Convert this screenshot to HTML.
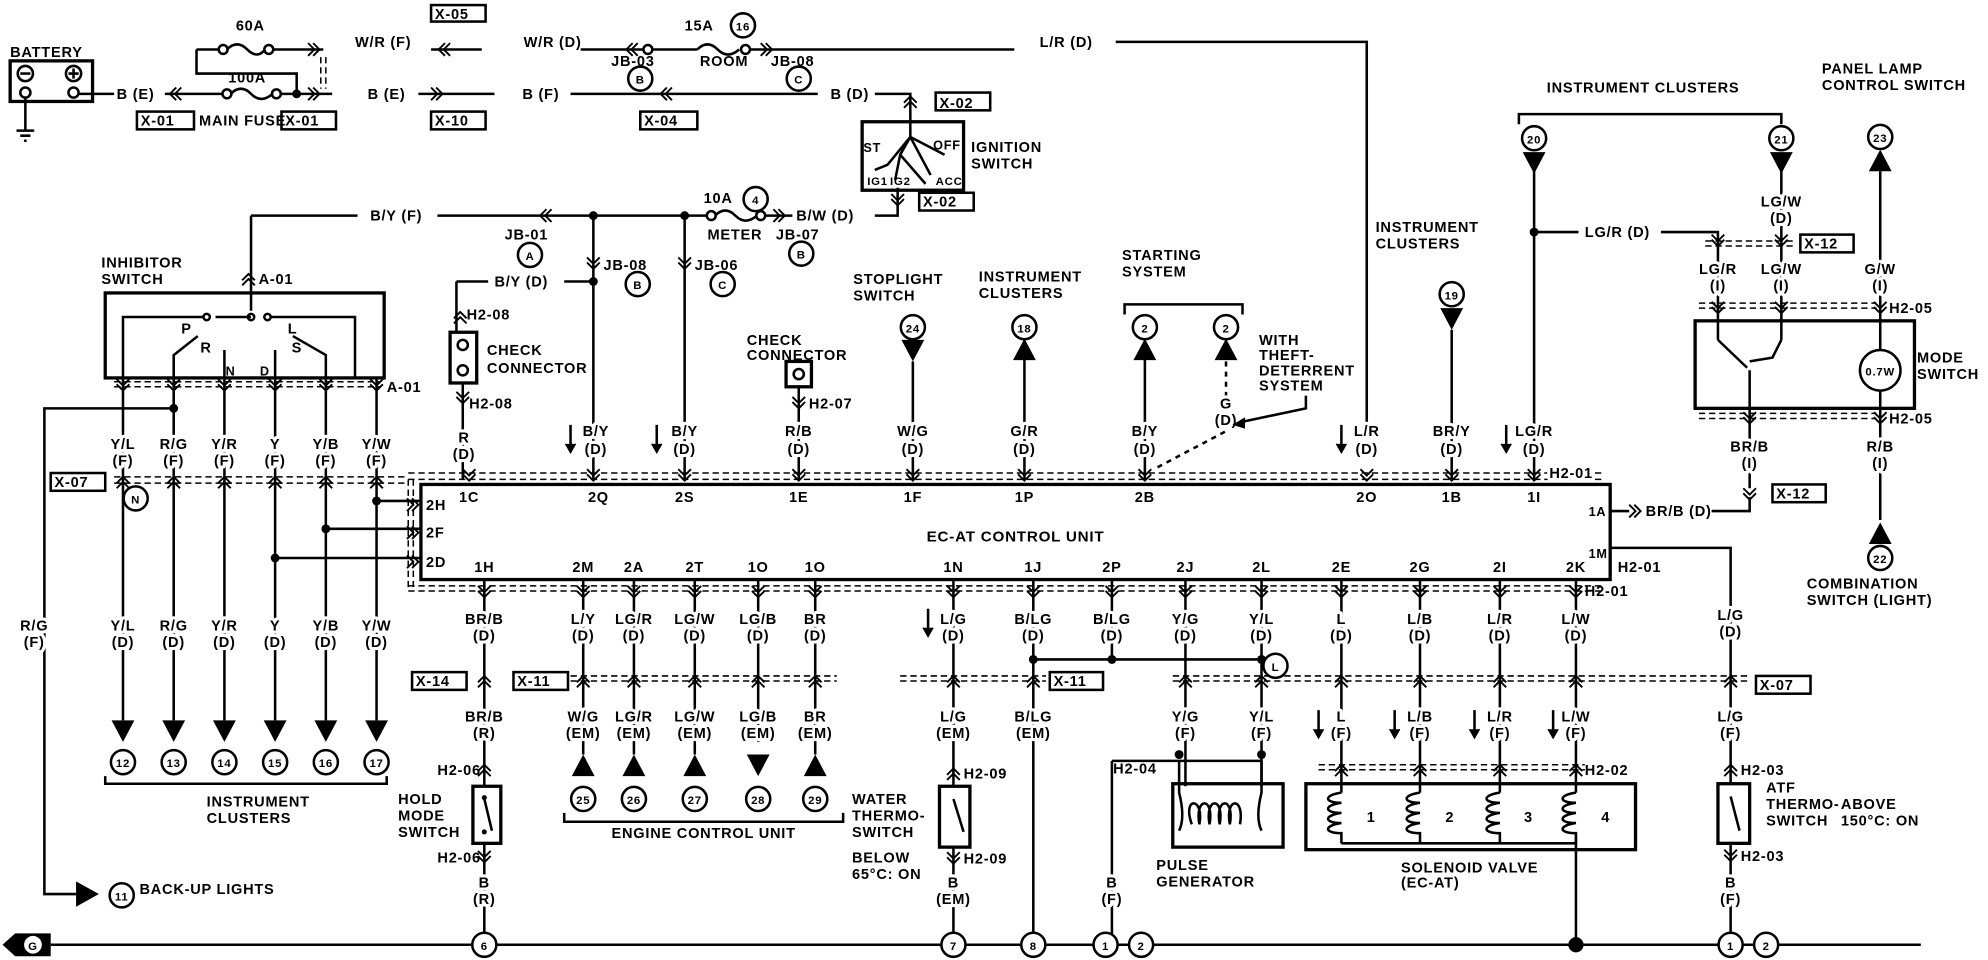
<!DOCTYPE html>
<html><head><meta charset="utf-8"><style>
html,body{margin:0;padding:0;background:#fff;}
svg{display:block;}
text{font-family:"Liberation Sans",sans-serif;font-weight:bold;font-size:11.5px;fill:#000;letter-spacing:0.6px;}
.h{paint-order:stroke;stroke:#fff;stroke-width:5px;stroke-linejoin:round;}
.m{text-anchor:middle;}
.l{stroke:#000;stroke-width:2;fill:none;}
.b{stroke:#000;stroke-width:2.6;fill:none;}
.d{stroke:#000;stroke-width:1.2;fill:none;stroke-dasharray:5 3;}
</style></head><body>
<svg width="1988" height="960" viewBox="0 0 1568 757" preserveAspectRatio="none" xmlns="http://www.w3.org/2000/svg">
<defs>
<g id="cd"><path d="M-5,-5 L0,0 L5,-5 M-5,-1 L0,4 L5,-1" stroke="#000" stroke-width="1.5" fill="none"/></g>
<g id="cu"><path d="M-5,5 L0,0 L5,5 M-5,1 L0,-4 L5,1" stroke="#000" stroke-width="1.5" fill="none"/></g>
<g id="cl"><path d="M5,-5 L0,0 L5,5 M1,-5 L-4,0 L1,5" stroke="#000" stroke-width="1.5" fill="none"/></g>
<g id="cr"><path d="M-5,-5 L0,0 L-5,5 M-1,-5 L4,0 L-1,5" stroke="#000" stroke-width="1.5" fill="none"/></g>
<g id="td"><polygon points="-9,0 9,0 0,17" fill="#000"/></g>
<g id="tu"><polygon points="-9,17 9,17 0,0" fill="#000"/></g>
<g id="cc"><circle r="9.5" fill="#fff" stroke="#000" stroke-width="2"/></g>
<g id="dot"><circle r="3.5" fill="#000"/></g>
</defs>

<!-- TOP POWER -->
<text x="8" y="45">BATTERY</text>
<rect x="8" y="48" width="65" height="32" class="b"/>
<circle cx="20" cy="58" r="6" class="l" stroke-width="1.5"/><path d="M16,58h8" class="l"/>
<circle cx="58" cy="58" r="6" class="l" stroke-width="1.5"/><path d="M54,58h8M58,54v8" class="l"/>
<circle cx="20" cy="73" r="4" class="l" stroke-width="1.5"/><circle cx="58" cy="73" r="4" class="l" stroke-width="1.5"/>
<path d="M20,77V103M13,103h14M16,107h8M19,111h2" class="l"/>
<path d="M62,74H90" class="l"/>
<text x="92" y="78">B (E)</text>
<path d="M130,74H176" class="l"/><use href="#cl" x="138" y="74"/>
<circle cx="179" cy="74" r="3.5" class="l" stroke-width="1.5"/><circle cx="218" cy="74" r="3.5" class="l" stroke-width="1.5"/>
<path d="M182,74 q8,-8 16,0 t17,0" class="l"/>
<text x="180" y="65" class="h">100A</text>
<path d="M221,74H262" class="l"/><use href="#dot" x="234" y="74"/><use href="#cr" x="248" y="74"/>
<path d="M155,39H173M155,39V58H234V74" class="l"/>
<circle cx="176" cy="39" r="3.5" class="l" stroke-width="1.5"/><circle cx="212" cy="39" r="3.5" class="l" stroke-width="1.5"/>
<path d="M179,39 q8,-8 16,0 t14,0" class="l"/>
<text x="186" y="24">60A</text>
<path d="M215,39H255" class="l"/><use href="#cr" x="248" y="39"/>
<path d="M253,45V70M257,45V70" class="d"/>
<text x="280" y="37">W/R (F)</text>
<path d="M340,39H380" class="l"/><use href="#cl" x="350" y="39"/>
<text x="413" y="37">W/R (D)</text>
<path d="M458,39H508" class="l"/><use href="#cl" x="498" y="39"/>
<circle cx="511" cy="39" r="3.5" class="l" stroke-width="1.5"/><circle cx="588" cy="39" r="3.5" class="l" stroke-width="1.5"/>
<path d="M550,39 q8,-8 16,0 t17,0M514,39H550" class="l"/>
<text x="540" y="24">15A</text><use href="#cc" x="586" y="20"/><text x="586" y="24" class="m" style="font-size:9px">16</text>
<text x="552" y="52">ROOM</text>
<path d="M591,39H800" class="l"/><use href="#cr" x="605" y="39"/>
<text x="482" y="52">JB-03</text><use href="#cc" x="505" y="62"/><text x="505" y="66" class="m" style="font-size:9px">B</text>
<text x="608" y="52">JB-08</text><use href="#cc" x="630" y="62"/><text x="630" y="66" class="m" style="font-size:9px">C</text>
<text x="820" y="37">L/R (D)</text>
<path d="M880,33H1078V340" class="l"/>
<rect x="340" y="4" width="43" height="13" class="l" stroke-width="1.5"/><text x="343" y="15">X-05</text>
<text x="290" y="78">B (E)</text>
<path d="M330,74H390" class="l"/><use href="#cr" x="345" y="74"/>
<text x="412" y="78">B (F)</text>
<path d="M450,74H645" class="l"/><use href="#cl" x="525" y="74"/>
<text x="655" y="78">B (D)</text>
<path d="M690,74H718V95" class="l"/><use href="#cu" x="718" y="80"/>
<rect x="738" y="73" width="43" height="14" class="l" stroke-width="1.5"/><text x="741" y="85">X-02</text>
<rect x="108" y="88" width="45" height="14" class="l" stroke-width="1.5"/><text x="111" y="99">X-01</text>
<text x="157" y="99">MAIN FUSE</text>
<rect x="222" y="88" width="43" height="14" class="l" stroke-width="1.5"/><text x="225" y="99">X-01</text>
<rect x="340" y="88" width="43" height="14" class="l" stroke-width="1.5"/><text x="343" y="99">X-10</text>
<rect x="505" y="88" width="45" height="14" class="l" stroke-width="1.5"/><text x="508" y="99">X-04</text>

<!-- ignition -->
<rect x="680" y="96" width="80" height="54" class="b"/>
<text x="681" y="120" style="font-size:10px">ST</text><text x="736" y="118" style="font-size:10px">OFF</text>
<text x="684" y="146" style="font-size:9px">IG1</text><text x="702" y="146" style="font-size:9px">IG2</text><text x="738" y="146" style="font-size:9px">ACC</text>
<path d="M718,95V108L745,122M718,108L700,130L690,134M718,108L710,122L706,142M718,108L734,138M710,122L730,145" class="l" stroke-width="1.3"/>
<text x="766" y="120">IGNITION</text><text x="766" y="133">SWITCH</text>
<path d="M708,148V170H690" class="l"/><use href="#cd" x="708" y="158"/>
<rect x="725" y="152" width="43" height="14" class="l" stroke-width="1.5"/><text x="728" y="163">X-02</text>
<text x="628" y="174">B/W (D)</text>
<path d="M198,170H282M345,170H558M603,170H625" class="l"/>
<text x="292" y="174">B/Y (F)</text>
<use href="#cl" x="430" y="170"/><use href="#cr" x="615" y="170"/>
<circle cx="561" cy="170" r="3.5" class="l" stroke-width="1.5"/><circle cx="600" cy="170" r="3.5" class="l" stroke-width="1.5"/>
<path d="M564,170 q8,-8 16,0 t17,0" class="l"/>
<text x="555" y="160">10A</text><use href="#cc" x="596" y="157"/><text x="596" y="161" class="m" style="font-size:9px">4</text>
<text x="558" y="189">METER</text><text x="612" y="189">JB-07</text><use href="#cc" x="632" y="200"/><text x="632" y="204" class="m" style="font-size:9px">B</text>
<text x="398" y="189">JB-01</text><use href="#cc" x="418" y="201"/><text x="418" y="205" class="m" style="font-size:9px">A</text>
<use href="#dot" x="468" y="170"/><use href="#dot" x="540" y="170"/>
<path d="M468,170V378M540,170V378" class="l"/><use href="#cd" x="468" y="208"/><use href="#cd" x="540" y="208"/>
<text x="476" y="213">JB-08</text><use href="#cc" x="503" y="224"/><text x="503" y="228" class="m" style="font-size:9px">B</text>
<text x="548" y="213">JB-06</text><use href="#cc" x="570" y="224"/><text x="570" y="228" class="m" style="font-size:9px">C</text>
<text x="390" y="226">B/Y (D)</text>
<path d="M360,222H385M445,222H468" class="l"/><use href="#dot" x="468" y="222"/>
<path d="M360,222V262M365,302V378" class="l"/><use href="#cu" x="363" y="250"/>
<text x="368" y="252">H2-08</text>
<rect x="355" y="262" width="21" height="40" class="b"/>
<circle cx="365" cy="272" r="4" class="l" stroke-width="1.5"/><circle cx="365" cy="292" r="4" class="l" stroke-width="1.5"/>
<text x="384" y="280">CHECK</text><text x="384" y="294">CONNECTOR</text>
<use href="#cd" x="365" y="314"/><text x="370" y="322">H2-08</text>

<!-- Inhibitor -->
<text x="80" y="211">INHIBITOR</text><text x="80" y="224">SWITCH</text>
<path d="M198,170V245" class="l"/><use href="#cu" x="196" y="220"/><text x="204" y="224">A-01</text>
<rect x="83" y="231" width="220" height="67" class="b"/>
<path d="M97,298V250H160M170,250H198M214,250H280V298" class="l" stroke-width="1.5"/>
<circle cx="163" cy="250" r="2.5" class="l" stroke-width="1.2"/><circle cx="198" cy="250" r="2.5" class="l" stroke-width="1.2"/><circle cx="211" cy="250" r="2.5" class="l" stroke-width="1.2"/>
<path d="M137,298V280L156,265M177,298V276M217,298V276M257,298V280L231,265" class="l" stroke-width="1.5"/>
<text x="143" y="263">P</text><text x="227" y="263">L</text><text x="158" y="278">R</text><text x="178" y="296" style="font-size:10px">N</text><text x="205" y="296" style="font-size:10px">D</text><text x="230" y="278">S</text>
<path d="M90,301H300M90,305H300" class="d"/>
<text x="305" y="309">A-01</text>
<g class="l">
<path d="M97,298V568M137,298V568M177,298V568M217,298V568M257,298V568M297,298V568"/>
<path d="M137,322H35V705H60"/>
<path d="M297,395H332M257,417H332M217,440H332"/>
</g>
<use href="#dot" x="137" y="322"/><use href="#dot" x="297" y="395"/><use href="#dot" x="257" y="417"/><use href="#dot" x="217" y="440"/>
<g>
<use href="#cd" x="97" y="304"/><use href="#cd" x="137" y="304"/><use href="#cd" x="177" y="304"/><use href="#cd" x="217" y="304"/><use href="#cd" x="257" y="304"/><use href="#cd" x="297" y="304"/>
<use href="#cu" x="97" y="380"/><use href="#cu" x="137" y="380"/><use href="#cu" x="177" y="380"/><use href="#cu" x="217" y="380"/><use href="#cu" x="257" y="380"/><use href="#cu" x="297" y="380"/>
</g>
<path d="M90,376H320M90,381H320" class="d"/>
<rect x="40" y="373" width="43" height="14" class="l" stroke-width="1.5"/><text x="43" y="384">X-07</text>
<use href="#cc" x="107" y="393"/><text x="107" y="397" class="m" style="font-size:9px">N</text>
<g class="m">
<text class="h" x="97" y="354">Y/L</text><text class="h" x="97" y="367">(F)</text>
<text class="h" x="137" y="354">R/G</text><text class="h" x="137" y="367">(F)</text>
<text class="h" x="177" y="354">Y/R</text><text class="h" x="177" y="367">(F)</text>
<text class="h" x="217" y="354">Y</text><text class="h" x="217" y="367">(F)</text>
<text class="h" x="257" y="354">Y/B</text><text class="h" x="257" y="367">(F)</text>
<text class="h" x="297" y="354">Y/W</text><text class="h" x="297" y="367">(F)</text>
<text class="h" x="97" y="497">Y/L</text><text class="h" x="97" y="510">(D)</text>
<text class="h" x="137" y="497">R/G</text><text class="h" x="137" y="510">(D)</text>
<text class="h" x="177" y="497">Y/R</text><text class="h" x="177" y="510">(D)</text>
<text class="h" x="217" y="497">Y</text><text class="h" x="217" y="510">(D)</text>
<text class="h" x="257" y="497">Y/B</text><text class="h" x="257" y="510">(D)</text>
<text class="h" x="297" y="497">Y/W</text><text class="h" x="297" y="510">(D)</text>
<text class="h" x="27" y="497">R/G</text><text class="h" x="27" y="510">(F)</text>
</g>
<use href="#td" x="97" y="568"/><use href="#td" x="137" y="568"/><use href="#td" x="177" y="568"/><use href="#td" x="217" y="568"/><use href="#td" x="257" y="568"/><use href="#td" x="297" y="568"/>
<g>
<use href="#cc" x="97" y="601"/><text x="97" y="605" class="m" style="font-size:9px">12</text>
<use href="#cc" x="137" y="601"/><text x="137" y="605" class="m" style="font-size:9px">13</text>
<use href="#cc" x="177" y="601"/><text x="177" y="605" class="m" style="font-size:9px">14</text>
<use href="#cc" x="217" y="601"/><text x="217" y="605" class="m" style="font-size:9px">15</text>
<use href="#cc" x="257" y="601"/><text x="257" y="605" class="m" style="font-size:9px">16</text>
<use href="#cc" x="297" y="601"/><text x="297" y="605" class="m" style="font-size:9px">17</text>
</g>
<path d="M83,612V618H305V612" class="l"/>
<text x="163" y="636">INSTRUMENT</text><text x="163" y="649">CLUSTERS</text>
<polygon points="60,695 78,705 60,715" fill="#000"/>
<use href="#cc" x="96" y="706"/><text x="96" y="710" class="m" style="font-size:9px">11</text>
<text x="110" y="705">BACK-UP LIGHTS</text>

<!-- CONTROL UNIT -->
<rect x="332" y="382" width="938" height="75" class="b"/>
<text x="801" y="427" class="m" style="font-size:12px">EC-AT CONTROL UNIT</text>
<path d="M322,373H1265M322,378H1265M322,462H1265M322,466H1265M322,378V466M326,378V466" class="d"/>
<use href="#cr" x="326" y="398"/><use href="#cr" x="326" y="420"/><use href="#cr" x="326" y="443"/>
<text x="336" y="402">2H</text><text x="336" y="424">2F</text><text x="336" y="447">2D</text>
<g class="m">
<text x="370" y="396">1C</text><text x="472" y="396">2Q</text><text x="540" y="396">2S</text><text x="630" y="396">1E</text><text x="720" y="396">1F</text><text x="808" y="396">1P</text><text x="903" y="396">2B</text><text x="1078" y="396">2O</text><text x="1145" y="396">1B</text><text x="1210" y="396">1I</text>
<text x="382" y="451">1H</text><text x="460" y="451">2M</text><text x="500" y="451">2A</text><text x="548" y="451">2T</text><text x="598" y="451">1O</text><text x="643" y="451">1O</text><text x="752" y="451">1N</text><text x="815" y="451">1J</text><text x="877" y="451">2P</text><text x="935" y="451">2J</text><text x="995" y="451">2L</text><text x="1058" y="451">2E</text><text x="1120" y="451">2G</text><text x="1183" y="451">2I</text><text x="1243" y="451">2K</text>
</g>
<text x="1222" y="377" class="h">H2-01</text>
<text x="1253" y="407" style="font-size:10px">1A</text><text x="1253" y="440" style="font-size:10px">1M</text>
<text x="1250" y="470">H2-01</text><text x="1276" y="451">H2-01</text>

<!-- top columns -->
<g class="l">
<path d="M720,285V378M808,275V378M903,275V378M1145,260V378M1210,128V378"/>
<path d="M630,305V378"/>
</g>
<g>
<use href="#cd" x="370" y="375"/><use href="#cd" x="468" y="375"/><use href="#cd" x="540" y="375"/><use href="#cd" x="630" y="375"/><use href="#cd" x="720" y="375"/><use href="#cd" x="808" y="375"/><use href="#cd" x="903" y="375"/><use href="#cd" x="1078" y="375"/><use href="#cd" x="1145" y="375"/><use href="#cd" x="1210" y="375"/>
</g>
<g class="m">
<text class="h" x="366" y="349">R</text><text class="h" x="366" y="362">(D)</text>
<text class="h" x="470" y="344">B/Y</text><text class="h" x="470" y="358">(D)</text>
<text class="h" x="540" y="344">B/Y</text><text class="h" x="540" y="358">(D)</text>
<text class="h" x="630" y="344">R/B</text><text class="h" x="630" y="358">(D)</text>
<text class="h" x="720" y="344">W/G</text><text class="h" x="720" y="358">(D)</text>
<text class="h" x="808" y="344">G/R</text><text class="h" x="808" y="358">(D)</text>
<text class="h" x="903" y="344">B/Y</text><text class="h" x="903" y="358">(D)</text>
<text class="h" x="1078" y="344">L/R</text><text class="h" x="1078" y="358">(D)</text>
<text class="h" x="1145" y="344">BR/Y</text><text class="h" x="1145" y="358">(D)</text>
<text class="h" x="1210" y="344">LG/R</text><text class="h" x="1210" y="358">(D)</text>
</g>
<path d="M450,335V355M518,335V355M1058,335V355M1188,335V355" class="l" stroke-width="1.5"/>
<path d="M446,350L450,357L454,350M514,350L518,357L522,350M1054,350L1058,357L1062,350M1184,350L1188,357L1192,350" fill="#000" stroke="#000"/>
<rect x="620" y="285" width="20" height="20" class="b"/><circle cx="630" cy="295" r="4" class="l" stroke-width="1.5"/>
<text x="589" y="272">CHECK</text><text x="589" y="284">CONNECTOR</text>
<use href="#cd" x="630" y="318"/><text x="638" y="322">H2-07</text>
<text x="673" y="224">STOPLIGHT</text><text x="673" y="237">SWITCH</text>
<use href="#cc" x="720" y="258"/><text x="720" y="262" class="m" style="font-size:9px">24</text><use href="#td" x="720" y="268"/>
<text x="772" y="222">INSTRUMENT</text><text x="772" y="235">CLUSTERS</text>
<use href="#cc" x="808" y="258"/><text x="808" y="262" class="m" style="font-size:9px">18</text><use href="#tu" x="808" y="267"/>
<text x="885" y="205">STARTING</text><text x="885" y="218">SYSTEM</text>
<path d="M887,248V240H980V248" class="l"/>
<use href="#cc" x="903" y="258"/><text x="903" y="262" class="m" style="font-size:9px">2</text><use href="#tu" x="903" y="267"/>
<use href="#cc" x="967" y="258"/><text x="967" y="262" class="m" style="font-size:9px">2</text><use href="#tu" x="967" y="267"/>
<path d="M967,285V340L910,370" class="l" stroke-width="1.5" stroke-dasharray="4 4"/>
<text x="967" y="322" class="m h">G</text><text x="967" y="335" class="m h">(D)</text>
<text x="993" y="272">WITH</text><text x="993" y="284">THEFT-</text><text x="993" y="296">DETERRENT</text><text x="993" y="308">SYSTEM</text>
<path d="M1030,312V322L978,333" class="l" stroke-width="1.5"/><polygon points="972,335 982,329 982,338" fill="#000"/>
<text x="1085" y="183">INSTRUMENT</text><text x="1085" y="196">CLUSTERS</text>
<use href="#cc" x="1145" y="232"/><text x="1145" y="236" class="m" style="font-size:9px">19</text><use href="#td" x="1145" y="243"/>

<!-- right top -->
<text x="1220" y="73">INSTRUMENT CLUSTERS</text>
<path d="M1198,98V90H1405V98" class="l"/>
<use href="#cc" x="1210" y="109"/><text x="1210" y="113" class="m" style="font-size:9px">20</text><use href="#td" x="1210" y="120"/>
<use href="#dot" x="1210" y="183"/><path d="M1210,183H1245M1310,183H1355V268" class="l"/>
<text x="1250" y="187">LG/R (D)</text>
<use href="#cc" x="1405" y="109"/><text x="1405" y="113" class="m" style="font-size:9px">21</text><use href="#td" x="1405" y="120"/>
<path d="M1405,128V268" class="l"/>
<text x="1405" y="163" class="m h">LG/W</text><text x="1405" y="176" class="m h">(D)</text>
<use href="#cd" x="1355" y="190"/><use href="#cd" x="1405" y="190"/>
<path d="M1345,190H1415M1345,194H1415" class="d"/>
<rect x="1420" y="185" width="42" height="14" class="l" stroke-width="1.5"/><text x="1423" y="196">X-12</text>
<text x="1355" y="216" class="m h">LG/R</text><text x="1355" y="229" class="m h">(I)</text>
<text x="1405" y="216" class="m h">LG/W</text><text x="1405" y="229" class="m h">(I)</text>
<text x="1437" y="58">PANEL LAMP</text><text x="1437" y="71">CONTROL SWITCH</text>
<use href="#cc" x="1483" y="108"/><text x="1483" y="112" class="m" style="font-size:9px">23</text><use href="#tu" x="1483" y="118"/>
<path d="M1483,135V276M1483,308V410" class="l"/>
<text x="1483" y="216" class="m h">G/W</text><text x="1483" y="229" class="m h">(I)</text>
<use href="#cd" x="1355" y="243"/><use href="#cd" x="1405" y="243"/><use href="#cd" x="1483" y="243"/>
<path d="M1340,239H1480M1340,243H1480" class="d"/>
<text x="1490" y="247">H2-05</text>
<rect x="1337" y="253" width="173" height="69" class="b"/>
<path d="M1355,268L1378,290M1380,292V322M1405,268L1398,282L1380,285" class="l" stroke-width="1.5"/>
<circle cx="1483" cy="292" r="16" class="l"/><text x="1483" y="296" class="m" style="font-size:9px">0.7W</text>
<text x="1512" y="286">MODE</text><text x="1512" y="299">SWITCH</text>
<path d="M1380,322V385" class="l"/><use href="#cd" x="1380" y="330"/><use href="#cd" x="1483" y="330"/>
<path d="M1340,326H1480M1340,330H1480" class="d"/>
<text x="1490" y="334">H2-05</text>
<text x="1380" y="356" class="m h">BR/B</text><text x="1380" y="369" class="m h">(I)</text>
<text x="1483" y="356" class="m h">R/B</text><text x="1483" y="369" class="m h">(I)</text>
<use href="#cd" x="1380" y="390"/>
<rect x="1398" y="382" width="42" height="14" class="l" stroke-width="1.5"/><text x="1401" y="393">X-12</text>
<use href="#tu" x="1483" y="412"/><use href="#cc" x="1483" y="440"/><text x="1483" y="444" class="m" style="font-size:9px">22</text>
<text x="1425" y="464">COMBINATION</text><text x="1425" y="477">SWITCH (LIGHT)</text>
<path d="M1270,403H1285M1350,403H1380V392" class="l"/><use href="#cr" x="1290" y="403"/>
<text x="1298" y="407">BR/B (D)</text>
<path d="M1270,432H1365V618" class="l"/>

<!-- bottom columns -->
<g class="l">
<path d="M382,457V620M382,665V745"/>
<path d="M460,457V595M500,457V595M548,457V595M598,457V585M643,457V595"/>
<path d="M752,457V620M752,668V745"/>
<path d="M815,457V745"/>
<path d="M877,457V520M877,600V745"/>
<path d="M935,457V620M995,457V620"/>
<path d="M1058,457V625M1120,457V625M1183,457V625M1243,457V625M1243,660V745"/>
<path d="M1365,665V745"/>
<path d="M815,520H995M877,600H995"/>
<path d="M40,745H1515"/>
</g>
<use href="#dot" x="815" y="520"/><use href="#dot" x="877" y="520"/><use href="#dot" x="995" y="520"/>
<use href="#dot" x="930" y="595"/><use href="#dot" x="995" y="595"/>
<circle cx="1243" cy="745" r="6" fill="#000"/>
<g>
<use href="#cd" x="382" y="467"/><use href="#cd" x="460" y="467"/><use href="#cd" x="500" y="467"/><use href="#cd" x="548" y="467"/><use href="#cd" x="598" y="467"/><use href="#cd" x="643" y="467"/><use href="#cd" x="752" y="467"/><use href="#cd" x="815" y="467"/><use href="#cd" x="877" y="467"/><use href="#cd" x="935" y="467"/><use href="#cd" x="995" y="467"/><use href="#cd" x="1058" y="467"/><use href="#cd" x="1120" y="467"/><use href="#cd" x="1183" y="467"/><use href="#cd" x="1243" y="467"/>
<use href="#cu" x="382" y="537"/><use href="#cu" x="460" y="537"/><use href="#cu" x="500" y="537"/><use href="#cu" x="548" y="537"/><use href="#cu" x="598" y="537"/><use href="#cu" x="643" y="537"/><use href="#cu" x="752" y="537"/><use href="#cu" x="815" y="537"/><use href="#cu" x="935" y="537"/><use href="#cu" x="995" y="537"/><use href="#cu" x="1058" y="537"/><use href="#cu" x="1120" y="537"/><use href="#cu" x="1183" y="537"/><use href="#cu" x="1243" y="537"/><use href="#cu" x="1365" y="537"/>
</g>
<path d="M450,533H660M450,537H660M710,533H825M710,537H825M925,533H1380M925,537H1380" class="d"/>
<rect x="325" y="530" width="43" height="14" class="l" stroke-width="1.5"/><text x="328" y="541">X-14</text>
<rect x="405" y="530" width="43" height="14" class="l" stroke-width="1.5"/><text x="408" y="541">X-11</text>
<rect x="828" y="530" width="42" height="14" class="l" stroke-width="1.5" fill="#fff"/><text x="831" y="541">X-11</text>
<rect x="1385" y="533" width="43" height="14" class="l" stroke-width="1.5"/><text x="1388" y="544">X-07</text>
<use href="#cc" x="1006" y="525"/><text x="1006" y="529" class="m" style="font-size:9px">L</text>
<g class="m">
<text class="h" x="382" y="492">BR/B</text><text class="h" x="382" y="505">(D)</text>
<text class="h" x="460" y="492">L/Y</text><text class="h" x="460" y="505">(D)</text>
<text class="h" x="500" y="492">LG/R</text><text class="h" x="500" y="505">(D)</text>
<text class="h" x="548" y="492">LG/W</text><text class="h" x="548" y="505">(D)</text>
<text class="h" x="598" y="492">LG/B</text><text class="h" x="598" y="505">(D)</text>
<text class="h" x="643" y="492">BR</text><text class="h" x="643" y="505">(D)</text>
<text class="h" x="752" y="492">L/G</text><text class="h" x="752" y="505">(D)</text>
<text class="h" x="815" y="492">B/LG</text><text class="h" x="815" y="505">(D)</text>
<text class="h" x="877" y="492">B/LG</text><text class="h" x="877" y="505">(D)</text>
<text class="h" x="935" y="492">Y/G</text><text class="h" x="935" y="505">(D)</text>
<text class="h" x="995" y="492">Y/L</text><text class="h" x="995" y="505">(D)</text>
<text class="h" x="1058" y="492">L</text><text class="h" x="1058" y="505">(D)</text>
<text class="h" x="1120" y="492">L/B</text><text class="h" x="1120" y="505">(D)</text>
<text class="h" x="1183" y="492">L/R</text><text class="h" x="1183" y="505">(D)</text>
<text class="h" x="1243" y="492">L/W</text><text class="h" x="1243" y="505">(D)</text>
<text class="h" x="1365" y="489">L/G</text><text class="h" x="1365" y="502">(D)</text>
<text class="h" x="382" y="569">BR/B</text><text class="h" x="382" y="582">(R)</text>
<text class="h" x="460" y="569">W/G</text><text class="h" x="460" y="582">(EM)</text>
<text class="h" x="500" y="569">LG/R</text><text class="h" x="500" y="582">(EM)</text>
<text class="h" x="548" y="569">LG/W</text><text class="h" x="548" y="582">(EM)</text>
<text class="h" x="598" y="569">LG/B</text><text class="h" x="598" y="582">(EM)</text>
<text class="h" x="643" y="569">BR</text><text class="h" x="643" y="582">(EM)</text>
<text class="h" x="752" y="569">L/G</text><text class="h" x="752" y="582">(EM)</text>
<text class="h" x="815" y="569">B/LG</text><text class="h" x="815" y="582">(EM)</text>
<text class="h" x="935" y="569">Y/G</text><text class="h" x="935" y="582">(F)</text>
<text class="h" x="995" y="569">Y/L</text><text class="h" x="995" y="582">(F)</text>
<text class="h" x="1058" y="569">L</text><text class="h" x="1058" y="582">(F)</text>
<text class="h" x="1120" y="569">L/B</text><text class="h" x="1120" y="582">(F)</text>
<text class="h" x="1183" y="569">L/R</text><text class="h" x="1183" y="582">(F)</text>
<text class="h" x="1243" y="569">L/W</text><text class="h" x="1243" y="582">(F)</text>
<text class="h" x="1365" y="569">L/G</text><text class="h" x="1365" y="582">(F)</text>
<text class="h" x="382" y="700">B</text><text class="h" x="382" y="713">(R)</text>
<text class="h" x="752" y="700">B</text><text class="h" x="752" y="713">(EM)</text>
<text class="h" x="877" y="700">B</text><text class="h" x="877" y="713">(F)</text>
<text class="h" x="1365" y="700">B</text><text class="h" x="1365" y="713">(F)</text>
</g>
<path d="M732,480V500M1040,560V580M1100,560V580M1163,560V580M1225,560V580" class="l" stroke-width="1.5"/>
<path d="M728,495L732,502L736,495M1036,575L1040,582L1044,575M1096,575L1100,582L1104,575M1159,575L1163,582L1167,575M1221,575L1225,582L1229,575" fill="#000" stroke="#000"/>
<!-- hold mode -->
<use href="#cu" x="382" y="607"/>
<text x="345" y="611">H2-06</text>
<rect x="373" y="620" width="22" height="45" class="b"/>
<path d="M382,630L388,655" class="l" stroke-width="1.5"/><circle cx="382" cy="629" r="2" fill="#000"/><circle cx="382" cy="656" r="2" fill="#000"/>
<text x="314" y="634">HOLD</text><text x="314" y="647">MODE</text><text x="314" y="660">SWITCH</text>
<use href="#cd" x="382" y="676"/><text x="345" y="680">H2-06</text>
<use href="#cc" x="382" y="745"/><text x="382" y="749" class="m" style="font-size:9px">6</text>
<!-- ECU triangles -->
<use href="#tu" x="460" y="595"/><use href="#tu" x="500" y="595"/><use href="#tu" x="548" y="595"/><use href="#td" x="598" y="595"/><use href="#tu" x="643" y="595"/>
<use href="#cc" x="460" y="630"/><text x="460" y="634" class="m" style="font-size:9px">25</text>
<use href="#cc" x="500" y="630"/><text x="500" y="634" class="m" style="font-size:9px">26</text>
<use href="#cc" x="548" y="630"/><text x="548" y="634" class="m" style="font-size:9px">27</text>
<use href="#cc" x="598" y="630"/><text x="598" y="634" class="m" style="font-size:9px">28</text>
<use href="#cc" x="643" y="630"/><text x="643" y="634" class="m" style="font-size:9px">29</text>
<path d="M445,641V648H665V641" class="l"/>
<text x="555" y="661" class="m">ENGINE CONTROL UNIT</text>
<!-- water thermo -->
<use href="#cu" x="752" y="610"/><text x="760" y="614">H2-09</text>
<rect x="741" y="620" width="24" height="48" class="b"/>
<path d="M752,630L760,656" class="l" stroke-width="1.5"/>
<text x="672" y="634">WATER</text><text x="672" y="647">THERMO-</text><text x="672" y="660">SWITCH</text>
<text x="672" y="680">BELOW</text><text x="672" y="693">65°C: ON</text>
<use href="#cd" x="752" y="677"/><text x="760" y="681">H2-09</text>
<use href="#cc" x="752" y="745"/><text x="752" y="749" class="m" style="font-size:9px">7</text>
<use href="#cc" x="815" y="745"/><text x="815" y="749" class="m" style="font-size:9px">8</text>
<use href="#cc" x="872" y="745"/><text x="872" y="749" class="m" style="font-size:9px">1</text>
<use href="#cc" x="900" y="745"/><text x="900" y="749" class="m" style="font-size:9px">2</text>
<!-- pulse generator -->
<text x="878" y="610">H2-04</text>
<rect x="925" y="618" width="87" height="50" class="b"/>
<path d="M930,600V625q5,20 0,30M995,600V625q-5,20 0,30" class="l" stroke-width="1.5"/>
<path d="M940,650c-8,-22 10,-22 6,0c-4,-22 12,-22 8,0c-4,-22 12,-22 8,0c-4,-22 12,-22 8,0c-4,-22 12,-22 8,0" class="l" stroke-width="1.8"/>
<text x="912" y="686">PULSE</text><text x="912" y="699">GENERATOR</text>
<!-- solenoid -->
<text x="1250" y="611">H2-02</text>
<use href="#cu" x="1058" y="607"/><use href="#cu" x="1120" y="607"/><use href="#cu" x="1183" y="607"/><use href="#cu" x="1243" y="607"/>
<path d="M1040,603H1250M1040,607H1250" class="d"/>
<rect x="1030" y="618" width="260" height="52" class="b"/>
<g class="l" stroke-width="1.8">
<path d="M1058,625c-14,2 -14,8 0,8c-14,2 -14,8 0,8c-14,2 -14,8 0,8c-14,2 -14,8 0,8V665"/>
<path d="M1120,625c-14,2 -14,8 0,8c-14,2 -14,8 0,8c-14,2 -14,8 0,8c-14,2 -14,8 0,8V665"/>
<path d="M1183,625c-14,2 -14,8 0,8c-14,2 -14,8 0,8c-14,2 -14,8 0,8c-14,2 -14,8 0,8V665"/>
<path d="M1243,625c-14,2 -14,8 0,8c-14,2 -14,8 0,8c-14,2 -14,8 0,8c-14,2 -14,8 0,8V665"/>
<path d="M1058,665H1243"/>
</g>
<text x="1078" y="648">1</text><text x="1140" y="648">2</text><text x="1202" y="648">3</text><text x="1263" y="648">4</text>
<text x="1105" y="688">SOLENOID VALVE</text><text x="1105" y="700">(EC-AT)</text>
<!-- ATF -->
<use href="#cu" x="1365" y="607"/><text x="1373" y="611">H2-03</text>
<rect x="1355" y="618" width="25" height="47" class="b"/>
<path d="M1365,628L1372,655" class="l" stroke-width="1.5"/>
<text x="1393" y="625">ATF</text><text x="1393" y="638">THERMO-</text><text x="1393" y="651">SWITCH</text>
<text x="1452" y="638">ABOVE</text><text x="1452" y="651">150°C: ON</text>
<use href="#cd" x="1365" y="675"/><text x="1373" y="679">H2-03</text>
<use href="#cc" x="1365" y="745"/><text x="1365" y="749" class="m" style="font-size:9px">1</text>
<use href="#cc" x="1393" y="745"/><text x="1393" y="749" class="m" style="font-size:9px">2</text>
<!-- ground G -->
<path d="M2,745L12,736H40V754H12Z" fill="#000"/>
<circle cx="26" cy="745" r="7" fill="#fff"/><text x="26" y="749" class="m" style="font-size:9px">G</text>
</svg>
</body></html>
